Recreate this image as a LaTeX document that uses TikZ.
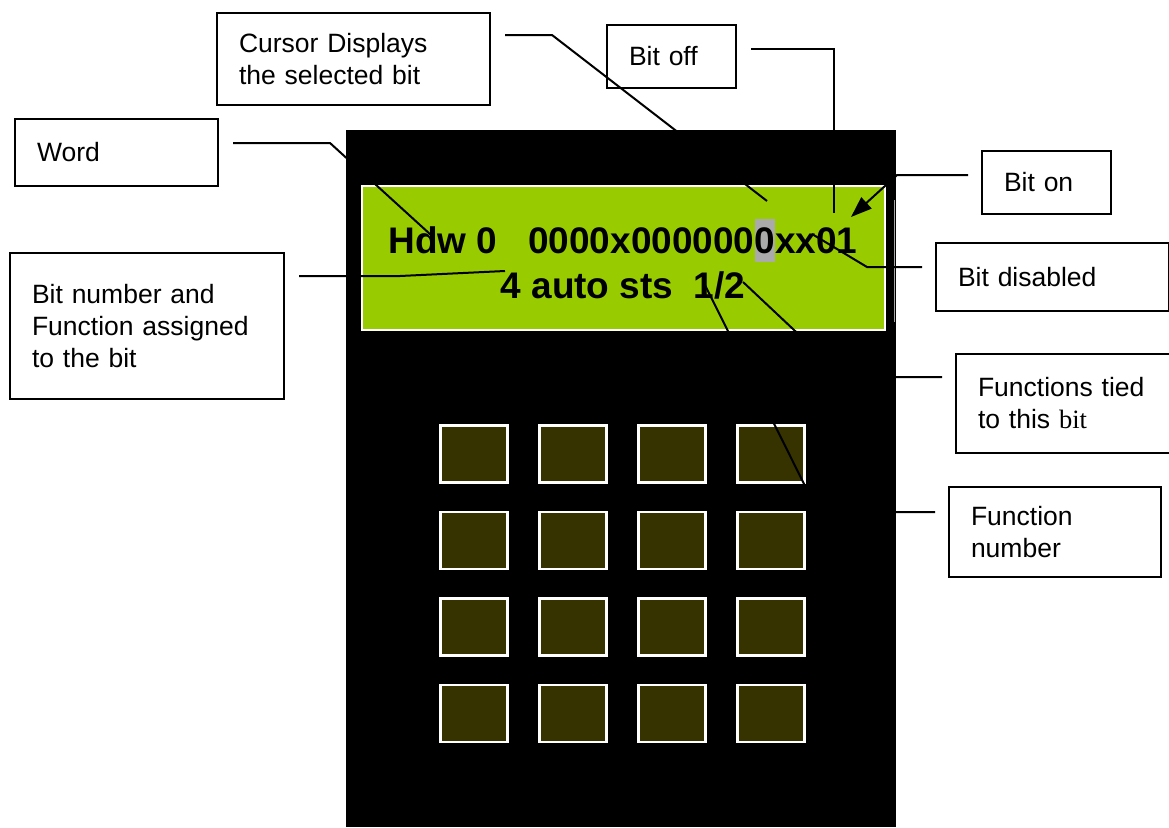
\documentclass[tikz,border=0pt]{standalone}
\usepackage{fontspec}
\setmainfont{Liberation Sans}
\newfontfamily\timesbit{Liberation Serif}
\usetikzlibrary{arrows.meta}

\definecolor{lcdgreen}{RGB}{153,204,0}
\definecolor{keyolive}{RGB}{54,51,0}
\definecolor{cursorgray}{RGB}{170,170,170}

\tikzset{
    callout/.style={draw, line width=2pt, anchor=north west, align=left, inner xsep=22pt, inner ysep=0pt, font=\fontsize{26.5}{32}\selectfont},
    leader/.style={line width=2pt},
    keypad/.style={draw=white, line width=2.5pt, fill=keyolive, inner sep=0pt, minimum width=67pt, minimum height=57pt, anchor=north west},
    lcdtext/.style={anchor=base, inner sep=0pt, font=\fontsize{37}{45}\selectfont\bfseries}
}

\begin{document}
\begin{tikzpicture}[x=1pt, y=-1pt]
        \useasboundingbox (0,0) rectangle (1169,827);

        % handheld unit
        \node[name=body, fill=black, inner sep=0pt, minimum width=550pt, minimum height=697pt, anchor=north west] at (346,130) {};
        \node[name=lcd, fill=lcdgreen, draw=white, line width=2pt, inner sep=0pt, minimum width=523pt, minimum height=144pt, anchor=north west] at (361,185) {};
        \draw[gray!70, line width=1.5pt] (894.5,200) -- (894.5,322);

        \node[lcdtext, name=row1] at (623,253) {Hdw 0\ \ \ 0000x000000{\setlength{\fboxsep}{0pt}\colorbox{cursorgray}{\rule[-9pt]{0pt}{43pt}0}}xx01};
        \node[lcdtext, name=row2] at (623,298) {4 auto sts\ \ 1/2};

        \foreach \r in {0,...,3}
            {
                \foreach \c in {0,...,3}
                    {
                        \node[keypad, name=key_\r_\c] at ({439+99*\c}, {424+86.5*\r}) {};
                    }
            }

        % callouts
        \node[callout, name=cursor, text width=229pt, minimum height=92pt] at (216,12) {Cursor Displays\\the selected bit};
        \node[callout, name=bitoff, text width=85pt, minimum height=63pt] at (606,24) {Bit off};
        \node[callout, name=word, text width=159pt, minimum height=67pt] at (14,118) {Word};
        \node[callout, name=biton, text width=85pt, minimum height=63pt] at (981,150) {Bit on};
        \node[callout, name=bitnum, text width=230pt, minimum height=146pt] at (9,252) {Bit number and\\Function assigned\\to the bit};
        \node[callout, name=bitdis, text width=189pt, minimum height=68pt] at (935,242) {Bit disabled};
        \node[callout, name=tied, text width=174pt, minimum height=99pt] at (955,353) {Functions tied\\to this {\timesbit bit}};
        \node[callout, name=funcnum, text width=168pt, minimum height=90pt] at (948,486) {Function\\number};

        \coordinate (cursortip) at (767,201);
        \coordinate (wordtip) at (431,235);
        \coordinate (bitnumtip) at (505,271);
        \coordinate (bitofftip) at (834,213);
        \coordinate (bitontip) at (851,217);
        \coordinate (bitdistip) at (812,234);
        \coordinate (tiedtip) at (743,282);
        \coordinate (funcnumtip) at (704,283);

        % leaders
        \draw[leader, shorten <=14pt] (cursor.east |- 0,35) -- (552,35) -- (cursortip);
        \draw[leader, shorten <=14pt] (word.east |- 0,143) -- (330,143) -- (wordtip);
        \draw[leader, shorten <=14pt] (bitnum.east |- 0,276) -- (400,276) -- (bitnumtip);
        \draw[leader, shorten <=14pt] (bitoff.east |- 0,49) -- (834,49) -- (bitofftip);
        \draw[leader, shorten <=13pt, -{Triangle[length=21pt, width=15pt]}] (biton.west |- 0,175) -- (897,175) -- (bitontip);
        \draw[leader, shorten <=13pt] (bitdis.west |- 0,267) -- (867,267) -- (bitdistip);
        \draw[leader, shorten <=13pt] (tied.west |- 0,377) -- (844,377) -- (tiedtip);
        \draw[leader, shorten <=13pt] (funcnum.west |- 0,512) -- (818,512) -- (funcnumtip);
\end{tikzpicture}
\end{document}
